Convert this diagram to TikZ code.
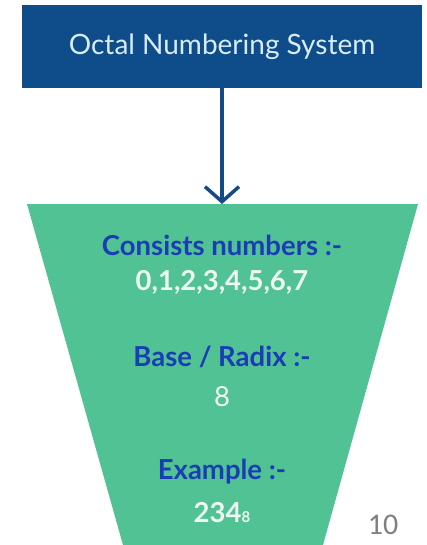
\documentclass[tikz,border=0pt]{standalone}
\usepackage{fontspec}
\setmainfont{Lato}
\newfontfamily\calib{Carlito}
\usetikzlibrary{arrows.meta}
\definecolor{boxblue}{HTML}{0F4C8A}
\definecolor{boxtext}{HTML}{D8ECF5}
\definecolor{funnel}{HTML}{50C293}
\definecolor{labblue}{HTML}{1A3DB5}
\definecolor{numwhite}{HTML}{EEF8F2}
\definecolor{arrowblue}{HTML}{144A85}
\definecolor{pagegray}{HTML}{7F7F7F}
\tikzset{
  heading/.style={font=\fontsize{27.5}{30}\selectfont\bfseries, text=labblue, inner sep=0pt},
  value/.style={font=\fontsize{27.5}{30}\selectfont\bfseries, text=numwhite, inner sep=0pt},
  valuelight/.style={font=\fontsize{27.5}{30}\selectfont, text=numwhite, inner sep=0pt},
}
\begin{document}
\begin{tikzpicture}[x=1pt,y=-1pt]
\useasboundingbox (0,0) rectangle (427,545);
\node[fill=boxblue, minimum width=400pt, minimum height=83pt, inner sep=0pt,
      text=boxtext, font=\fontsize{28}{31}\selectfont] (title) at (222,46.5) {Octal Numbering System};
\fill[funnel] (27,204) -- (418,204) -- (323,545) -- (123,545) -- cycle;
\coordinate (ftop) at (222,204);
\draw[arrowblue, line width=3.5pt, -{Straight Barb[length=15pt,width=34pt,line width=3.5pt]}] (title.south) -- (ftop);
\node[heading] (h1) at (222,245) {Consists numbers :-};
\node[value] (v1) at (222,282) {0,1,2,3,4,5,6,7};
\node[heading] (h2) at (222,357) {Base / Radix :-};
\node[valuelight] (v2) at (222,397) {8};
\node[heading] (h3) at (222,472) {Example :-};
\node[value] (v3) at (222,513) {234{\fontsize{15}{17}\selectfont 8}};
\node[font=\calib\fontsize{30}{33}\selectfont, text=pagegray, inner sep=0pt] (pg) at (383,525) {10};
\end{tikzpicture}
\end{document}
